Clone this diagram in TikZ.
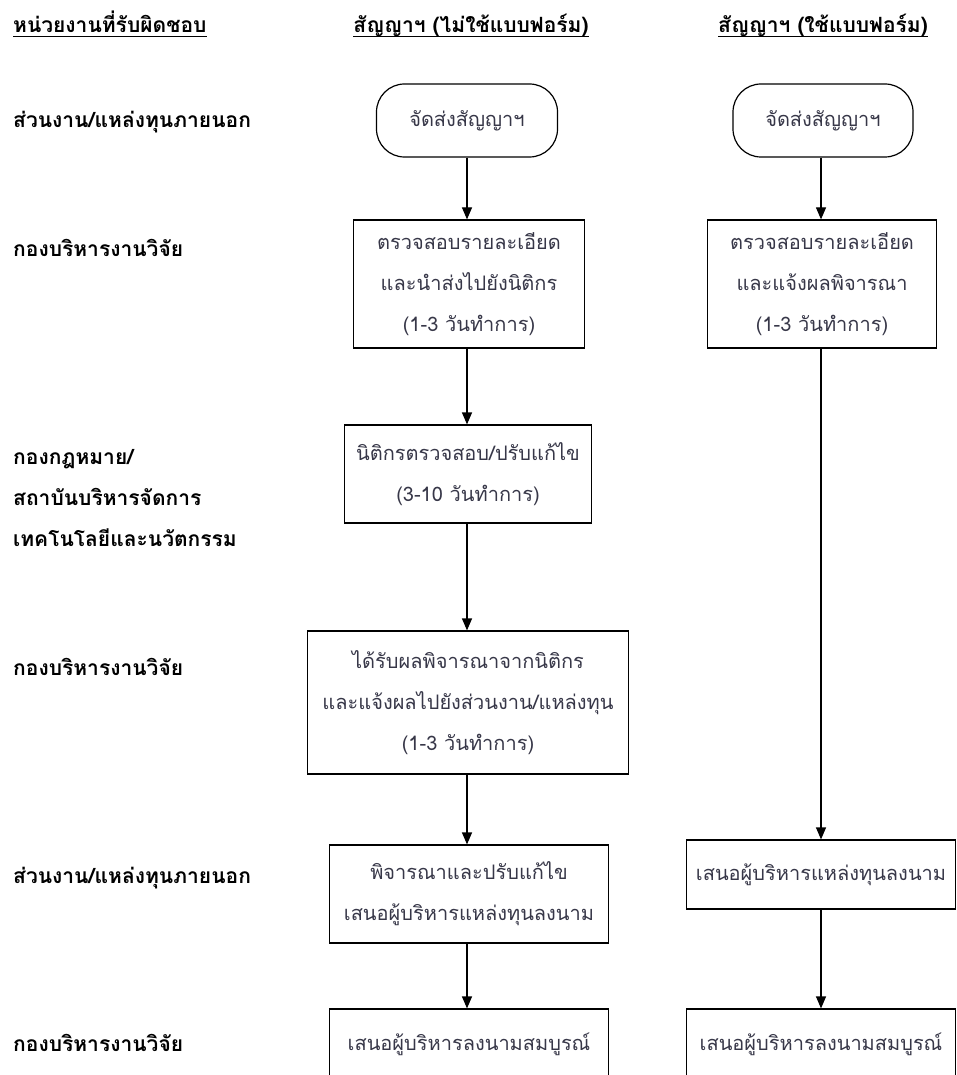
\documentclass[tikz,border=0pt]{standalone}
\usepackage{fontspec}
\newfontfamily\thai[Script=Thai]{Loma}
\usetikzlibrary{arrows.meta}
\definecolor{boxtext}{RGB}{55,55,72}
\begin{document}
\begin{tikzpicture}[x=1pt,y=-1pt,
  lab/.style={anchor=west,font=\thai\bfseries\fontsize{21}{41}\selectfont,inner sep=0pt,align=left},
  head/.style={anchor=base,font=\thai\bfseries\fontsize{21}{41}\selectfont,inner sep=0pt},
  box/.style={draw,line width=1.2pt,font=\thai\fontsize{20}{41}\selectfont,text=boxtext,align=center,inner sep=0pt},
  term/.style={box,rounded corners=28pt},
  arr/.style={line width=1.2pt,-{Triangle[length=12pt,width=10pt]}},
  uline/.style={line width=1pt}]
\useasboundingbox (0,0) rectangle (957,1075);
% headings
\node[head,anchor=base west] (h1) at (13,33) {หน่วยงานที่รับผิดชอบ};
\node[head] (h2) at (471,33) {สัญญาฯ (ไม่ใช้แบบฟอร์ม)};
\node[head] (h3) at (823,33) {สัญญาฯ (ใช้แบบฟอร์ม)};
\foreach \h in {h1,h2,h3}
  \draw[uline] ([yshift=-3.5pt]\h.base west) -- ([yshift=-3.5pt]\h.base east);
% row labels
\node[lab] (r1) at (13,122) {ส่วนงาน/แหล่งทุนภายนอก};
\node[lab] (r2) at (13,248) {กองบริหารงานวิจัย};
\node[lab] (r3) at (13,498) {กองกฎหมาย/\\สถาบันบริหารจัดการ\\เทคโนโลยีและนวัตกรรม};
\node[lab] (r4) at (13,667) {กองบริหารงานวิจัย};
\node[lab] (r5) at (13,878) {ส่วนงาน/แหล่งทุนภายนอก};
\node[lab] (r6) at (13,1043) {กองบริหารงานวิจัย};
% left column
\node[term,minimum width=181pt,minimum height=73pt] (t1) at (467,120.5) {จัดส่งสัญญาฯ};
\node[box,minimum width=231pt,minimum height=128pt] (l1) at (469,284) {ตรวจสอบรายละเอียด\\และนำส่งไปยังนิติกร\\(1-3 วันทำการ)};
\node[box,minimum width=247pt,minimum height=98pt] (l2) at (468,474) {นิติกรตรวจสอบ/ปรับแก้ไข\\(3-10 วันทำการ)};
\node[box,minimum width=321pt,minimum height=143pt] (l3) at (468,702.5) {ได้รับผลพิจารณาจากนิติกร\\และแจ้งผลไปยังส่วนงาน/แหล่งทุน\\(1-3 วันทำการ)};
\node[box,minimum width=279pt,minimum height=98pt] (l4) at (469,894) {พิจารณาและปรับแก้ไข\\เสนอผู้บริหารแหล่งทุนลงนาม};
\node[box,minimum width=279pt,minimum height=71pt] (l5) at (469,1044.5) {เสนอผู้บริหารลงนามสมบูรณ์};
% right column
\node[term,minimum width=180pt,minimum height=73pt] (t2) at (823,120.5) {จัดส่งสัญญาฯ};
\node[box,minimum width=229pt,minimum height=128pt] (q1) at (822,284) {ตรวจสอบรายละเอียด\\และแจ้งผลพิจารณา\\(1-3 วันทำการ)};
\node[box,minimum width=269pt,minimum height=69pt] (q4) at (821,874.5) {เสนอผู้บริหารแหล่งทุนลงนาม};
\node[box,minimum width=269pt,minimum height=71pt] (q5) at (821,1044.5) {เสนอผู้บริหารลงนามสมบูรณ์};
% connectors
\draw[arr] (t1.south) -- (t1.south |- l1.north);
\draw[arr] (l1.south -| t1.south) -- (t1.south |- l2.north);
\draw[arr] (l2.south -| t1.south) -- (t1.south |- l3.north);
\draw[arr] (l3.south -| t1.south) -- (t1.south |- l4.north);
\draw[arr] (l4.south -| t1.south) -- (t1.south |- l5.north);
\draw[arr] (q1.south -| q4.north) -- (q4.north);
\draw[arr] (t2.south -| q4.north) -- (q4.north |- q1.north);
\draw[arr] (q4.south) -- (q5.north);
\end{tikzpicture}
\end{document}
